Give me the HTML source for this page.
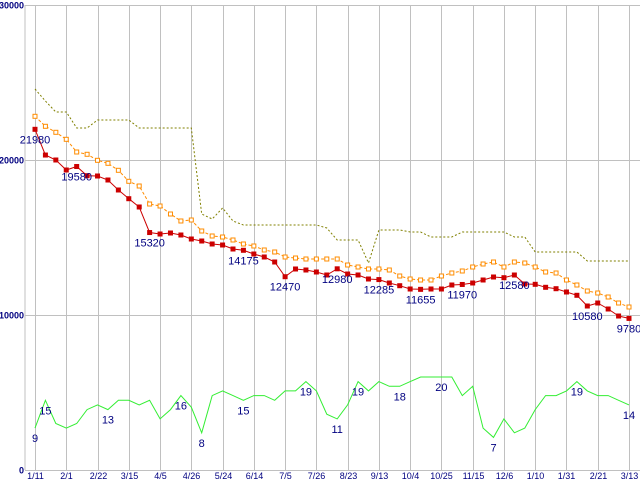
<!DOCTYPE html>
<html><head><meta charset="utf-8">
<style>
html,body{margin:0;padding:0;background:#fff;}
svg{display:block;}
text{font-family:"Liberation Sans",sans-serif;}
</style></head>
<body>
<svg id="chart" width="640" height="480" viewBox="0 0 640 480" xmlns="http://www.w3.org/2000/svg"></svg>
<script>
const xTickLabels = ["1/11","2/1","2/22","3/15","4/5","4/26","5/24","6/14","7/5","7/26","8/23","9/13","10/4","10/25","11/15","12/6","1/10","1/31","2/21","3/13"];
const yTickValues = [0,10000,20000,30000];
const priceSeries = [21980,20320,20000,19355,19580,18987,18968,18710,18065,17503,16968,15320,15225,15290,15161,14903,14774,14581,14516,14258,14175,13935,13742,13419,12470,12968,12903,12774,12581,12980,12645,12581,12323,12285,12065,11890,11677,11655,11677,11677,11935,11970,12065,12258,12452,12406,12580,12000,11980,11787,11697,11484,11271,10580,10774,10387,9935,9780];
const avgSeries = [22819,22174,21787,21335,20516,20368,19980,19787,19335,18626,18322,17161,17032,16516,16065,16129,15419,15097,15032,14839,14581,14452,14194,14065,13742,13677,13613,13613,13613,13613,13226,13097,12968,12968,12903,12516,12323,12258,12258,12516,12710,12839,13097,13290,13419,13097,13419,13355,13097,12774,12710,12258,11935,11548,11419,11161,10774,10516];
const maxSeries = [24581,23806,23097,23097,22065,22065,22581,22581,22581,22581,22065,22065,22065,22065,22065,22065,16516,16194,16903,16065,15806,15806,15806,15806,15806,15806,15806,15806,15613,14839,14839,14839,13355,15484,15484,15484,15355,15355,15032,15032,15032,15355,15355,15355,15355,15355,15032,15032,14065,14065,14065,14065,14065,13484,13484,13484,13484,13484];
const countSeries = [9,15,10,9,10,13,14,13,15,15,14,15,11,13,16,13.5,8,16,17,16,15,16,16,15,17,17,19,17,12,11,14,19,17,19,18,18,19,20,20,20,20,16,18,9,7,11,8,9,13,16,16,17,19,17,16,16,15,14];
const priceLabelIdx = [0,4,11,20,24,29,33,37,41,46,53,57];
const countLabelIdx = [0,1,7,14,16,20,26,29,31,35,39,44,52,57];

const NS="http://www.w3.org/2000/svg";
const svg=document.getElementById('chart');
const X0=35, XSTEP=(629-35)/57;
function xAt(i){return X0+i*XSTEP;}
function yPrice(v){return 470-v*(465/30000);}
function yCount(v){return 470-v*4.65;}
function mk(tag,attrs,parent){const e=document.createElementNS(NS,tag);for(const k in attrs)e.setAttribute(k,attrs[k]);(parent||svg).appendChild(e);return e;}

// grid
const grid=mk('g',{});


mk('line',{x1:25,y1:5,x2:25,y2:470,stroke:'#c0c0c0','stroke-width':1},grid);
yTickValues.forEach(v=>{
  const y=Math.round(yPrice(v))+0.5;
  const l=mk('line',{x1:25,y1:y,x2:640,y2:y,stroke:'#c0c0c0','stroke-width':1},grid);
  
  
  const t=mk('text',{x:24,y:y+3,'text-anchor':'end','font-size':'9','font-weight':'bold',fill:'#000080','font-family':'Liberation Mono, monospace'});
  t.textContent=v;
  
  
});
xTickLabels.forEach((lab,k)=>{
  const x=Math.round(xAt(k*3))+0.5;
  const l=mk('line',{x1:x,y1:5,x2:x,y2:470,stroke:'#c0c0c0','stroke-width':1},grid);
  
  
  const t=mk('text',{x:x,y:479,'text-anchor':'middle','font-size':'9',fill:'#000080','font-family':'Liberation Mono, monospace'});
  t.textContent=lab;
  
  
});

function poly(arr,yf,attrs,name){
  const pts=arr.map((v,i)=>xAt(i).toFixed(1)+','+yf(v).toFixed(1)).join(' ');
  const p=mk('polyline',Object.assign({points:pts,fill:'none'},attrs));
  
  
  return p;
}
// max series (olive dotted, stepped)
(function(){
  let d='';
  maxSeries.forEach((v,i)=>{d+=(i?'L':'M')+xAt(i).toFixed(1)+','+yPrice(v).toFixed(1);});
  const p=mk('path',{d:d,fill:'none',stroke:'#808000','stroke-width':1,'stroke-dasharray':'2,2'});
  
  
})();
// avg series
poly(avgSeries,yPrice,{stroke:'#ff8c00','stroke-width':1,'stroke-dasharray':'3,2'},'average-price-line');
avgSeries.forEach((v,i)=>{
  const r=mk('rect',{x:xAt(i)-2,y:yPrice(v)-2,width:4,height:4,fill:'#fff',stroke:'#ff8c00','stroke-width':1});
  
  
});
// price series
poly(priceSeries,yPrice,{stroke:'#cc0000','stroke-width':1},'price-line');
priceSeries.forEach((v,i)=>{
  const r=mk('rect',{x:xAt(i)-2.5,y:yPrice(v)-2.5,width:5,height:5,fill:'#cc0000'});
  
  
});
// count series
poly(countSeries,yCount,{stroke:'#33ee33','stroke-width':1},'count-line');

// labels
priceLabelIdx.forEach(i=>{
  const t=mk('text',{x:xAt(i),y:yPrice(priceSeries[i])+14,'text-anchor':'middle','font-size':'11',fill:'#000080'});
  t.textContent=priceSeries[i];
  
  
});
countLabelIdx.forEach(i=>{
  const t=mk('text',{x:xAt(i),y:yCount(countSeries[i])+14,'text-anchor':'middle','font-size':'11',fill:'#000080'});
  t.textContent=Math.round(countSeries[i]);
  
  
});
</script>
</body></html>
